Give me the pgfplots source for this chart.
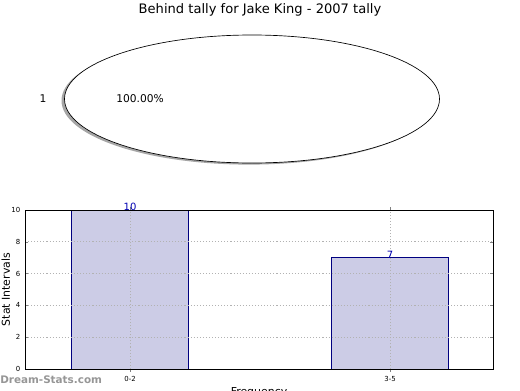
\documentclass[border=0pt]{standalone}
\usepackage{pgfplots}
\pgfplotsset{compat=1.18}
\usepackage{fontspec}
\setmainfont{DejaVu Sans}
\definecolor{barfill}{RGB}{204,204,230}
\definecolor{baredge}{RGB}{0,0,128}
\definecolor{wm}{RGB}{150,150,150}
\begin{document}
\begin{tikzpicture}
\useasboundingbox (0,0) rectangle (390pt,292.5pt);
\node[font=\fontsize{9.8}{11}\selectfont] at (195pt,285pt) {Behind tally for Jake King - 2007 tally};
% pie
\begin{axis}[at={(189pt,218.25pt)}, anchor=center, scale only axis,
  width=281.25pt, height=96pt, xmin=-1, xmax=1, ymin=-1, ymax=1,
  hide axis, clip=false]
  \fill[gray!70] (axis cs:-0.016,-0.025) ellipse [x radius=1, y radius=1];
  \draw[black, fill=white, line width=0.5pt] (axis cs:0,0) ellipse [x radius=1, y radius=1];
  \node[font=\fontsize{8}{9}\selectfont] at (axis cs:-1.115,0) {1};
  \node[font=\fontsize{8}{9}\selectfont] at (axis cs:-0.597,0) {100.00\%};
\end{axis}
% bars
\begin{axis}[at={(18.75pt,15.75pt)}, anchor=south west, scale only axis,
  width=351pt, height=119.25pt,
  xmin=-0.404, xmax=1.396, ymin=0, ymax=10,
  xtick={0,1}, xticklabels={0-2,3-5},
  ytick={0,2,4,6,8,10},
  tick label style={font=\fontsize{5.2}{6}\selectfont},
  /pgf/number format/assume math mode=true,
  tick align=inside, major tick length=2pt,
  xtick pos=both, ytick pos=both,
  axis on top,
  grid=major, major grid style={gray!60, dash pattern=on 0.8pt off 1.5pt, line width=0.6pt},
  axis line style={black, line width=0.6pt},
  ylabel={Stat Intervals}, xlabel={Frequency},
  label style={font=\fontsize{8.2}{9}\selectfont},
  ylabel style={at={(axis description cs:-0.041,0.5)}, anchor=center, rotate=0},
  xlabel style={at={(axis description cs:0.5,0)}, anchor=north, yshift=-10.5pt},
  ybar, bar width=87.75pt,
  nodes near coords, every node near coord/.append style={font=\fontsize{7.5}{9}\selectfont, text=blue!70!black, yshift=-4pt},
]
\addplot[fill=barfill, draw=baredge, line width=0.6pt] coordinates {(0,10) (1,7)};
\end{axis}
\node[font=\bfseries\fontsize{7.8}{9}\selectfont, text=wm, anchor=west, inner sep=0pt] at (0pt,7.5pt) {Dream-Stats.com};
\end{tikzpicture}
\end{document}
